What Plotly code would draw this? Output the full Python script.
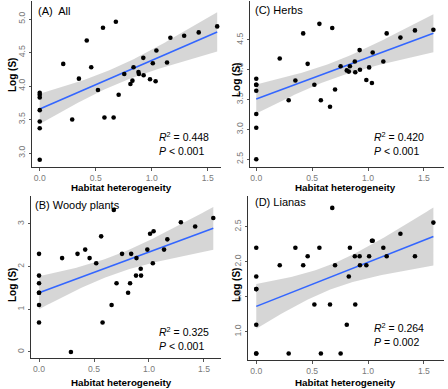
import numpy as np
import plotly.graph_objects as go

# ---------------- data ----------------
habitat_het = [0, 0, 0, 0, 0, 0, 0,
               0.21, 0.29, 0.35, 0.42, 0.46, 0.52, 0.565, 0.578, 0.66, 0.68,
               0.705, 0.755, 0.81, 0.828, 0.838, 0.882, 0.886, 0.925, 0.928, 0.985,
               1.01, 1.035, 1.042, 1.137, 1.167, 1.29, 1.42, 1.585]

log_s_all = [2.90, 3.37, 3.47, 3.64, 3.83, 3.87, 3.90,
             4.33, 3.50, 4.11, 4.68, 4.28, 3.94, 4.87, 3.53, 3.53, 4.96,
             3.87, 4.18, 4.03, 4.08, 4.28, 4.21, 4.18, 4.42, 4.16, 4.10,
             4.34, 4.07, 4.53, 4.35, 4.72, 4.75, 4.80, 4.89]

log_s_herbs = [2.50, 3.03, 3.26, 3.65, 3.75, 3.85, 3.75,
               4.19, 3.49, 3.82, 4.61, 4.10, 3.75, 4.77, 3.49, 3.38, 4.70,
               3.67, 4.06, 3.99, 3.97, 4.06, 4.14, 3.96, 4.33, 4.00, 3.83,
               4.04, 3.78, 4.29, 4.14, 4.61, 4.54, 4.66, 4.67]

log_s_woody = [2.30, 1.79, 1.61, 1.39, 1.10, 0.69, 1.39,
               2.20, 0.00, 2.30, 2.40, 2.20, 2.08, 2.71, 0.69, 1.10, 3.33,
               1.61, 2.30, 1.39, 1.61, 2.30, 1.79, 2.20, 1.95, 1.79, 2.40,
               2.77, 2.08, 2.83, 2.40, 2.64, 3.04, 2.94, 3.14]

log_s_lianas = [0.69, 1.10, 1.61, 1.79, 2.20, 1.61, 0.69,
                1.95, 0.69, 2.20, 1.95, 2.08, 1.39, 2.20, 0.69, 1.39, 2.77,
                1.95, 0.69, 1.10, 1.79, 2.20, 2.08, 1.39, 2.08, 1.95, 1.95,
                2.08, 2.30, 2.30, 2.20, 2.08, 2.40, 2.08, 2.56]

panel_labels = ["(A)  All", "(C) Herbs", "(B) Woody plants", "(D) Lianas"]
stat_texts = ["<i>R</i><sup>2</sup> = 0.448<br><i>P</i> &lt; 0.001",
              "<i>R</i><sup>2</sup> = 0.420<br><i>P</i> &lt; 0.001",
              "<i>R</i><sup>2</sup> = 0.325<br><i>P</i> &lt; 0.001",
              "<i>R</i><sup>2</sup> = 0.264<br><i>P</i> = 0.002"]
x_ticks = [0.0, 0.5, 1.0, 1.5]
x_tick_labels = ["0.0", "0.5", "1.0", "1.5"]
y_ticks_all = [3.0, 3.5, 4.0, 4.5, 5.0]
y_ticks_herbs = [2.5, 3.0, 3.5, 4.0, 4.5]
y_ticks_woody = [0, 1, 2, 3]
y_ticks_lianas = [1.0, 1.5, 2.0, 2.5]

# ---------------- layout geometry (pixels) ----------------
W, H = 448, 389
def fx(px): return px / W
def fy(px): return 1 - px / H

panels = [
    dict(y=log_s_all, label=panel_labels[0], stat=stat_texts[0], yt=y_ticks_all,
         ytl=["3.0", "3.5", "4.0", "4.5", "5.0"],
         xdom=(32, 221), ydom=(1, 167), xr=(-0.069, 1.619), yr=(2.791, 5.269),
         lab=(36, 11), st=(157, 143), ytitle=(12, 75), xtitle=(122, 187)),
    dict(y=log_s_herbs, label=panel_labels[1], stat=stat_texts[1], yt=y_ticks_herbs,
         ytl=["2.5", "3.0", "3.5", "4.0", "4.5"],
         xdom=(250, 444), ydom=(1, 167), xr=(-0.056, 1.680), yr=(2.371, 5.153),
         lab=(253, 10), st=(372, 143), ytitle=(236, 80), xtitle=(345, 187)),
    dict(y=log_s_woody, label=panel_labels[2], stat=stat_texts[2], yt=y_ticks_woody,
         ytl=["0", "1", "2", "3"],
         xdom=(31, 221), ydom=(196, 358), xr=(-0.073, 1.655), yr=(-0.141, 3.656),
         lab=(33, 205), st=(157, 338), ytitle=(12, 285), xtitle=(122, 382)),
    dict(y=log_s_lianas, label=panel_labels[3], stat=stat_texts[3], yt=y_ticks_lianas,
         ytl=["1.0", "1.5", "2.0", "2.5"],
         xdom=(248, 444), ydom=(196, 360), xr=(-0.074, 1.680), yr=(0.597, 2.94),
         lab=(253, 202), st=(372, 334), ytitle=(236, 285), xtitle=(345, 382)),
]

FONT = "Liberation Sans, Arial, sans-serif"
T_CRIT = 2.0345  # t(0.975, df=33)

fig = go.Figure()
annotations = []
layout = {}

x = np.array(habitat_het, dtype=float)
for i, p in enumerate(panels):
    k = "" if i == 0 else str(i + 1)
    xa, ya = "x" + k, "y" + k
    y = np.array(p["y"], dtype=float)

    # OLS fit and 95% confidence band
    n = len(x)
    b, a = np.polyfit(x, y, 1)
    resid = y - (a + b * x)
    s = np.sqrt(np.sum(resid ** 2) / (n - 2))
    xbar = x.mean()
    sxx = np.sum((x - xbar) ** 2)
    xg = np.linspace(x.min(), x.max(), 80)
    yg = a + b * xg
    se = s * np.sqrt(1 / n + (xg - xbar) ** 2 / sxx)
    lo, hi = yg - T_CRIT * se, yg + T_CRIT * se

    fig.add_trace(go.Scatter(x=np.concatenate([xg, xg[::-1]]),
                             y=np.concatenate([hi, lo[::-1]]),
                             fill="toself", fillcolor="rgba(153,153,153,0.4)",
                             line=dict(width=0), mode="lines", hoverinfo="skip",
                             showlegend=False, xaxis=xa, yaxis=ya))
    fig.add_trace(go.Scatter(x=xg, y=yg, mode="lines",
                             line=dict(color="#3366FF", width=1.6),
                             showlegend=False, xaxis=xa, yaxis=ya))
    fig.add_trace(go.Scatter(x=x, y=y, mode="markers",
                             marker=dict(color="black", size=4.6),
                             showlegend=False, xaxis=xa, yaxis=ya))

    common = dict(showline=True, linecolor="#333333", linewidth=1, ticks="outside",
                  ticklen=2.5, tickwidth=1, tickcolor="#555555", showgrid=False,
                  zeroline=False, tickfont=dict(family=FONT, size=8.6, color="#7a7a7a"))
    layout["xaxis" + k] = dict(common, domain=[fx(p["xdom"][0]), fx(p["xdom"][1])],
                               range=list(p["xr"]), tickvals=x_ticks,
                               ticktext=x_tick_labels, anchor=ya)
    layout["yaxis" + k] = dict(common, domain=[fy(p["ydom"][1]), fy(p["ydom"][0])],
                               range=list(p["yr"]), tickvals=p["yt"],
                               ticktext=p["ytl"], tickangle=-90, anchor=xa)

    annotations.append(dict(x=fx(p["lab"][0]), y=fy(p["lab"][1]), xref="paper", yref="paper",
                            text=p["label"], showarrow=False, xanchor="left", yanchor="middle",
                            font=dict(family=FONT, size=11, color="black")))
    annotations.append(dict(x=fx(p["st"][0]), y=fy(p["st"][1]), xref="paper", yref="paper",
                            text=p["stat"], showarrow=False, xanchor="left", yanchor="middle",
                            align="left",
                            font=dict(family=FONT, size=10.5, color="black")))
    annotations.append(dict(x=fx(p["ytitle"][0]), y=fy(p["ytitle"][1]), xref="paper", yref="paper",
                            text="<b>Log (S)</b>", showarrow=False, textangle=-90,
                            xanchor="center", yanchor="middle",
                            font=dict(family=FONT, size=10, color="black")))
    annotations.append(dict(x=fx(p["xtitle"][0]), y=fy(p["xtitle"][1]), xref="paper", yref="paper",
                            text="<b>Habitat heterogeneity</b>", showarrow=False,
                            xanchor="center", yanchor="middle",
                            font=dict(family=FONT, size=9.8, color="black")))

fig.update_layout(width=W, height=H, margin=dict(l=0, r=0, t=0, b=0),
                  paper_bgcolor="white", plot_bgcolor="white",
                  annotations=annotations, **layout)
fig.write_html("out.html", config={"displayModeBar": False},
               post_script="document.body.style.margin='0px';document.body.style.padding='0px';")
